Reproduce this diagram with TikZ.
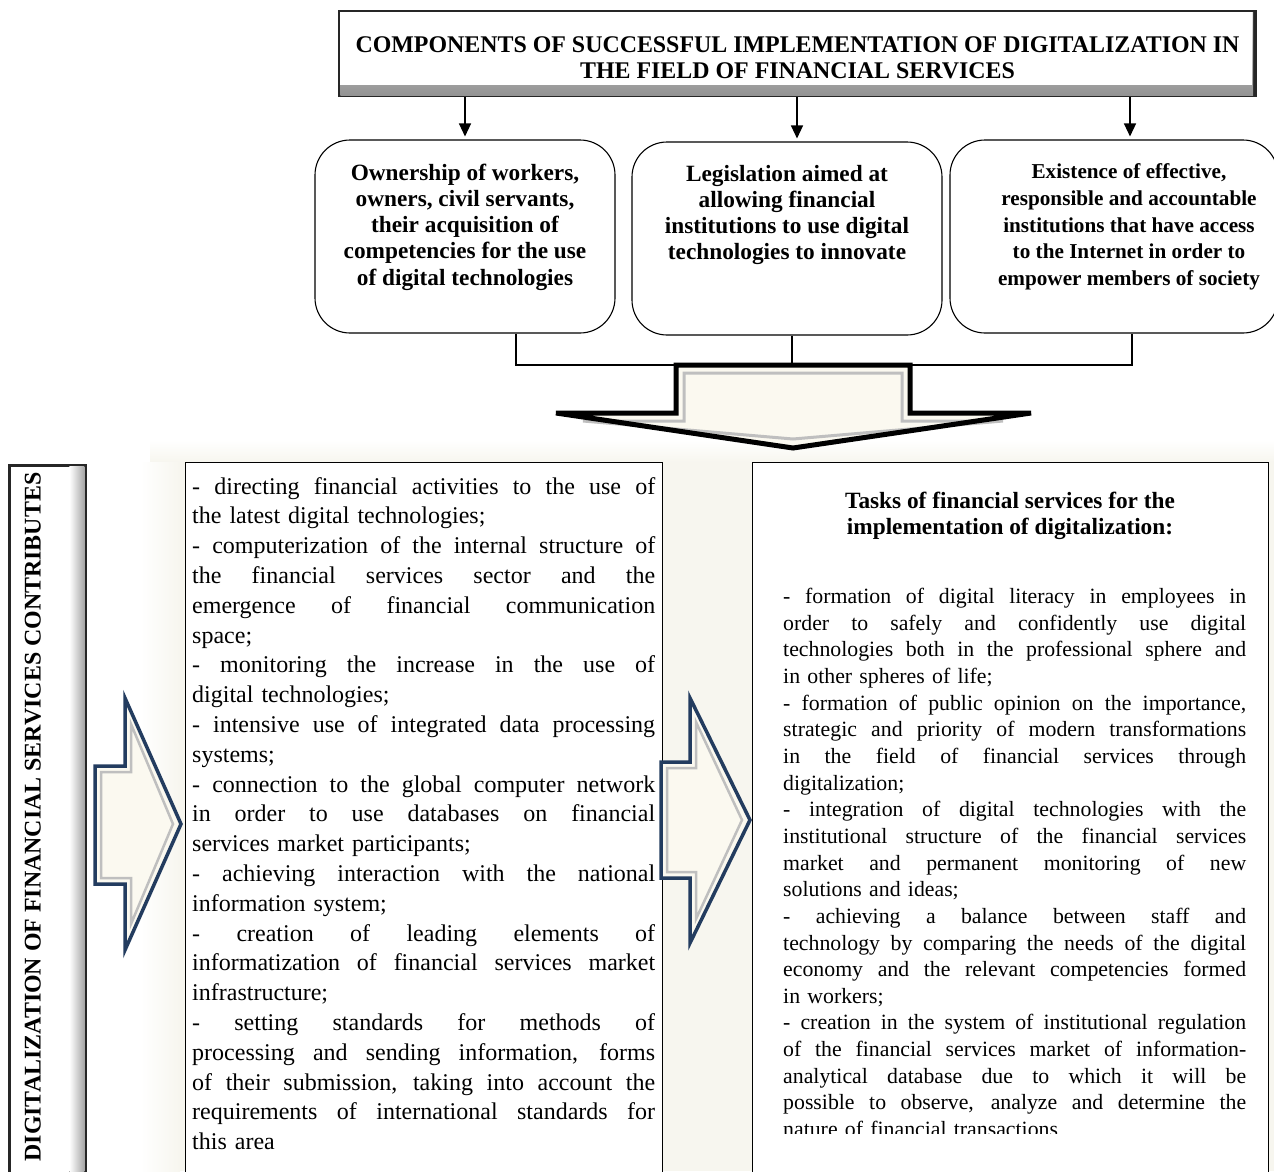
\documentclass[tikz,border=0pt]{standalone}
\usepackage{fontspec}
\setmainfont{Liberation Serif}
\usetikzlibrary{arrows.meta}
\definecolor{arrowfill}{RGB}{251,249,240}
\definecolor{bgbeige}{RGB}{247,246,239}
\definecolor{navy}{RGB}{35,60,95}
\newcommand{\jl}[1]{\noindent\hbox to 463pt{\spaceskip=0.25em plus 3em\relax #1}\par}
\newcommand{\lastl}[1]{\noindent #1\par}
\tikzset{
  boldtxt/.style={font=\bfseries\fontsize{23.3}{26.3}\selectfont, inner sep=0pt, align=center},
  capstxt/.style={font=\bfseries\fontsize{23.9}{25.5}\selectfont, inner sep=0pt, align=center},
  rbox/.style={draw, line width=1.1pt, rounded corners=35pt, inner sep=0pt},
  tbox/.style={draw, line width=1.1pt, fill=white, inner sep=0pt, anchor=north west},
  conn/.style={line width=1.3pt},
  downarrow/.style={conn, -{Triangle[width=12pt,length=13pt]}, shorten >=3pt},
  bodyL/.style={inner sep=0pt, anchor=north west, text width=463pt, font=\fontsize{24}{29.8}\selectfont},
  bodyR/.style={inner sep=0pt, anchor=north west, text width=463pt, font=\fontsize{21.8}{26.65}\selectfont},
}
\begin{document}
\begin{tikzpicture}[x=1pt,y=-1pt]
\useasboundingbox (0,0) rectangle (1274,1171);
\clip (0,0) rectangle (1274,1171);
% soft background behind lower boxes
\shade[top color=white, bottom color=bgbeige] (150,440) rectangle (1274,462);
\shade[left color=white, right color=bgbeige] (140,462) rectangle (180,1171);
\fill[bgbeige] (180,462) rectangle (1274,1171);

% title box
\node[minimum width=919pt, minimum height=87pt, inner sep=0pt] (titlebox) at (797.5,53.5) {};
\fill[black!85] (titlebox.north west) rectangle (titlebox.south east);
\shade[top color=gray!20, bottom color=gray!85] ([xshift=2.5pt,yshift=-2.5pt]titlebox.north west) rectangle ([xshift=-4pt,yshift=2pt]titlebox.south east);
\fill[white] ([xshift=2.5pt,yshift=-2.5pt]titlebox.north west) rectangle ([xshift=-5pt,yshift=12pt]titlebox.south east);
\node[capstxt] (titletext) at (797.5,58) {COMPONENTS OF SUCCESSFUL IMPLEMENTATION OF DIGITALIZATION IN\\THE FIELD OF FINANCIAL SERVICES};

% three rounded boxes
\node[rbox, minimum width=300pt, minimum height=193pt] (b1) at (465,236.5) {};
\node[rbox, minimum width=310pt, minimum height=193pt] (b2) at (787,238.5) {};
\node[rbox, minimum width=328pt, minimum height=193pt] (b3) at (1114,236.5) {};
\node[boldtxt] (t1) at (465,227) {Ownership of workers,\\owners, civil servants,\\their acquisition of\\competencies for the use\\of digital technologies};
\node[boldtxt] (t2) at (787,215) {Legislation aimed at\\allowing financial\\institutions to use digital\\technologies to innovate};
\node[boldtxt, font=\bfseries\fontsize{21.2}{26.75}\selectfont] (t3) at (1129,227) {Existence of effective,\\responsible and accountable\\institutions that have access\\to the Internet in order to\\empower members of society};

% arrows from title
\draw[downarrow] (titlebox.south -| 465,0) -- (b1.north -| 465,0);
\draw[downarrow] (titlebox.south -| 797,0) -- (b2.north -| 797,0);
\draw[downarrow] (titlebox.south -| 1130,0) -- (b3.north -| 1130,0);

% bracket
\coordinate (busL) at (516,365);
\coordinate (busM) at (792,365);
\coordinate (busR) at (1132,365);
\draw[conn] (b1.south -| busL) -- (busL) -- (busR) -- (b3.south -| busR);
\draw[conn] (b2.south -| busM) -- (busM);

% big down arrow
\fill[arrowfill] (676,365) -- (910,365) -- (910,413) -- (1031,413) -- (793,448) -- (556,413) -- (676,413) -- cycle;
\draw[gray!50, line width=3pt, line join=miter] (684,373) -- (902,373) -- (902,421) -- (1003,421) -- (793,439) -- (583,421) -- (684,421) -- cycle;
\draw[black, line width=5pt, line join=miter] (676,365) -- (910,365) -- (910,413) -- (1031,413) -- (793,448) -- (556,413) -- (676,413) -- cycle;

% vertical label box
\node[minimum width=79pt, minimum height=760pt, inner sep=0pt, anchor=north west] (vbox) at (8,464) {};
\fill[black!85] (vbox.north west) rectangle (vbox.south east);
\shade[left color=white, right color=gray!70] ([xshift=-18pt,yshift=-2.5pt]vbox.north east) rectangle ([xshift=-3pt]vbox.south east);
\fill[white] ([xshift=2.5pt,yshift=-2.5pt]vbox.north west) rectangle ([xshift=-18pt]vbox.south east);
\node[capstxt, rotate=90] (vtext) at (33,817) {DIGITALIZATION OF FINANCIAL SERVICES CONTRIBUTES};

% lower text boxes
\node[tbox, minimum width=477pt, minimum height=760pt] (leftbox) at (185,462) {};
\node[tbox, minimum width=516pt, minimum height=760pt] (rightbox) at (752,462) {};

\node[bodyL] (lefttext) at (192,477) {%
\jl{- directing financial activities to the use of}
\lastl{the latest digital technologies;}
\jl{- computerization of the internal structure of}
\jl{the financial services sector and the}
\jl{emergence of financial communication}
\lastl{space;}
\jl{- monitoring the increase in the use of}
\lastl{digital technologies;}
\jl{- intensive use of integrated data processing}
\lastl{systems;}
\jl{- connection to the global computer network}
\jl{in order to use databases on financial}
\lastl{services market participants;}
\jl{- achieving interaction with the national}
\lastl{information system;}
\jl{- creation of leading elements of}
\jl{informatization of financial services market}
\lastl{infrastructure;}
\jl{- setting standards for methods of}
\jl{processing and sending information, forms}
\jl{of their submission, taking into account the}
\jl{requirements of international standards for}
\lastl{this area}};

\node[boldtxt] (rhead) at (1010,516) {Tasks of financial services for the\\implementation of digitalization:};
\begin{scope}
\clip (752,462) rectangle (1268,1133);
\node[bodyR] (righttext) at (783,588) {%
\jl{- formation of digital literacy in employees in}
\jl{order to safely and confidently use digital}
\jl{technologies both in the professional sphere and}
\lastl{in other spheres of life;}
\jl{- formation of public opinion on the importance,}
\jl{strategic and priority of modern transformations}
\jl{in the field of financial services through}
\lastl{digitalization;}
\jl{- integration of digital technologies with the}
\jl{institutional structure of the financial services}
\jl{market and permanent monitoring of new}
\lastl{solutions and ideas;}
\jl{- achieving a balance between staff and}
\jl{technology by comparing the needs of the digital}
\jl{economy and the relevant competencies formed}
\lastl{in workers;}
\jl{- creation in the system of institutional regulation}
\jl{of the financial services market of information-}
\jl{analytical database due to which it will be}
\jl{possible to observe, analyze and determine the}
\lastl{nature of financial transactions}};
\end{scope}

% right-pointing arrows
\fill[arrowfill] (95,766) -- (125,766) -- (125,698) -- (181,824) -- (125,950) -- (125,884) -- (95,884) -- cycle;
\draw[gray!50, line width=2.5pt, line join=miter] (101,772) -- (131,772) -- (131,724) -- (173,824) -- (131,924) -- (131,878) -- (101,878) -- cycle;
\draw[navy, line width=3.5pt, line join=miter] (95,766) -- (125,766) -- (125,698) -- (181,824) -- (125,950) -- (125,884) -- (95,884) -- cycle;

\fill[arrowfill] (661,762) -- (690,762) -- (690,698) -- (750,820) -- (690,943) -- (690,878) -- (661,878) -- cycle;
\draw[gray!50, line width=2.5pt, line join=miter] (667,768) -- (696,768) -- (696,722) -- (742,820) -- (696,919) -- (696,872) -- (667,872) -- cycle;
\draw[navy, line width=3.5pt, line join=miter] (661,762) -- (690,762) -- (690,698) -- (750,820) -- (690,943) -- (690,878) -- (661,878) -- cycle;
\end{tikzpicture}
\end{document}
